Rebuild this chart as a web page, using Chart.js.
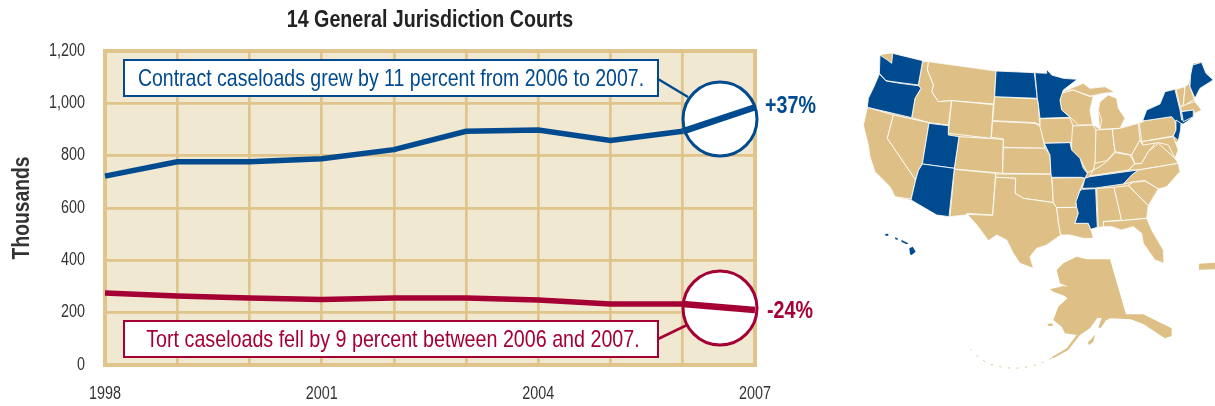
<!DOCTYPE html>
<html>
<head>
<meta charset="utf-8">
<title>14 General Jurisdiction Courts</title>
<script src="https://cdn.jsdelivr.net/npm/chart.js@4"></script>
<style>
  html, body { margin: 0; padding: 0; background: #fff; }
  #wrap { position: relative; width: 1215px; height: 406px; overflow: hidden; }
  #chart { position: absolute; left: 0; top: 0; }
  #map { position: absolute; left: 0; top: 0; }
  #map .states polygon { fill: #dec086; stroke: #fff; stroke-width: 2.6; stroke-linejoin: round; }
  #map .states polygon.base { stroke: none; }
  #map .states polygon.hl { fill: #004b8f; }
</style>
</head>
<body>
<div id="wrap">
  <canvas id="chart" width="1215" height="406"></canvas>
  <svg id="map" width="1215" height="406" viewBox="0 0 1215 406">
    <!-- lower 48, coordinates traced at 3x from the map origin -->
    <g class="states" transform="translate(850,30) scale(0.3333)">
      <polygon class="base" points="90,75 128,70 218,92 438,123 553,128 590,130 590,118 605,135 640,145 682,148 640,180 632,195 650,180 700,160 720,175 765,170 795,187 760,190 730,197 720,240 728,285 750,298 745,240 750,215 775,195 800,205 805,235 825,265 810,295 865,280 885,272 890,240 930,222 945,185 975,178 1005,170 1017,160 1030,100 1055,97 1065,130 1090,150 1045,180 1032,210 1035,215 1055,240 1035,250 1000,280 993,285 985,332 975,340 985,360 975,385 990,425 950,470 925,477 895,527 890,565 905,600 940,660 942,700 915,690 880,640 875,610 850,590 815,600 785,590 760,590 745,592 722,598 730,625 700,625 660,615 632,615 590,645 560,655 540,680 550,715 510,700 490,670 470,630 440,615 415,632 385,590 352,553 300,560 260,555 183,510 135,500 120,470 75,425 60,380 55,345 40,285 45,265 52,232 55,205 72,170 88,130"/>
      <polygon points="235,95 438,123 432,222 305,212 265,215 245,185 250,165 232,120"/>
      <polygon points="218,95 235,95 232,120 250,165 245,185 265,215 305,212 295,285 237,278 185,263 195,205 213,175 205,165"/>
      <polygon points="52,232 130,255 112,325 197,450 190,480 183,507 135,500 120,470 75,425 60,380 55,345 40,285 45,265"/>
      <polygon points="130,255 237,278 217,402 205,422 197,450 112,325"/>
      <polygon points="305,212 430,224 423,325 295,310"/>
      <polygon points="327,320 460,328 458,430 313,417"/>
      <polygon points="313,418 437,430 428,555 350,550 348,555 300,560"/>
      <polygon points="434,200 562,207 565,222 568,265 570,285 555,278 428,272"/>
      <polygon points="428,274 555,280 572,290 585,355 460,352 460,327 424,322"/>
      <polygon points="460,353 585,355 600,375 603,432 458,430"/>
      <polygon points="437,432 605,433 610,518 570,512 520,505 495,490 497,445 437,442"/>
      <polygon points="437,442 497,445 495,490 520,505 570,512 610,518 620,533 625,575 632,615 590,645 560,655 540,680 550,715 510,700 490,670 470,630 440,615 415,632 385,590 352,553 428,556"/>
      <polygon points="570,266 660,264 668,285 685,295 668,320 665,338 583,340 570,290"/>
      <polygon points="606,444 695,443 705,447 690,480 678,520 680,532 620,533 610,518"/>
      <polygon points="620,533 682,532 685,550 675,580 715,580 725,605 730,625 700,625 660,615 632,615 625,575"/>
      <polygon points="740,476 792,472 815,570 760,575 765,590 745,592"/>
      <polygon points="720,438 730,420 750,410 770,395 795,368 840,375 855,402 835,420"/>
      <polygon points="635,190 670,180 720,200 730,197 720,240 728,285 685,285 665,265 635,240 630,210"/>
      <polygon points="668,288 728,285 738,300 738,385 730,420 712,428 690,385 665,360 665,335"/>
      <polygon points="738,300 787,297 795,365 770,392 735,400"/>
      <polygon points="787,297 810,295 865,280 870,330 845,375 795,365"/>
      <polygon points="750,215 775,195 800,205 805,235 825,265 810,295 750,298 755,270 745,240"/>
      <polygon points="650,180 700,160 720,175 765,170 795,187 760,190 730,197 720,198 670,180"/>
      <polygon points="868,280 885,272 965,260 975,270 978,300 970,318 875,335"/>
      <polygon points="992,228 1035,215 1055,240 1035,250 1030,240 994,245"/>
      <polygon points="978,178 1005,170 1000,228 990,228"/>
      <polygon points="1005,170 1017,160 1033,208 1000,228"/>
      <polygon points="845,375 870,330 878,345 920,335 895,365 875,400 855,402"/>
      <polygon points="835,420 855,402 875,400 895,365 925,340 975,385 985,400 865,420"/>
      <polygon points="875,335 970,320 985,360 975,385 955,345 925,338 880,345"/>
      <polygon points="865,420 985,400 990,425 950,470 925,477 885,452 850,455 818,463 845,435"/>
      <polygon points="850,457 885,453 925,477 895,527 835,465"/>
      <polygon points="792,472 835,467 895,527 890,565 815,572"/>
      <polygon points="760,575 815,572 890,565 905,600 940,660 942,700 915,690 880,640 875,610 850,590 815,600 785,590 760,590"/>
      <!-- the 14 court states -->
      <polygon class="hl" points="128,70 218,92 205,165 150,158 108,152 88,130 90,75 112,90 125,100"/>
      <polygon class="hl" points="88,132 108,153 150,160 205,167 213,175 195,205 185,263 52,232 55,205 72,170"/>
      <polygon class="hl" points="237,280 295,287 295,315 327,320 313,415 217,402"/>
      <polygon class="hl" points="217,402 313,415 297,560 260,555 183,510 190,480 197,450 205,422"/>
      <polygon class="hl" points="438,123 553,128 562,205 434,200"/>
      <polygon class="hl" points="555,128 590,130 590,118 605,135 640,145 682,148 640,180 630,210 635,240 660,262 570,265 565,222 562,205"/>
      <polygon class="hl" points="583,340 660,338 665,360 690,385 700,415 712,430 705,445 695,442 605,442 603,432 600,375"/>
      <polygon class="hl" points="680,532 678,515 690,482 697,478 737,476 742,592 722,598 715,580 675,580 685,550"/>
      <polygon class="hl" points="697,475 705,445 720,440 865,420 845,435 820,462 737,474"/>
      <polygon class="hl" points="878,272 890,240 930,222 945,185 975,178 990,240 995,270 1030,262 1000,282 980,278 965,260 885,272"/>
      <polygon class="hl" points="978,270 993,280 992,300 985,332 970,318 978,300"/>
      <polygon class="hl" points="995,245 1030,240 1030,260 1000,275"/>
      <polygon class="hl" points="1028,105 1055,97 1068,130 1090,150 1050,175 1035,205 1020,170 1022,135"/>
    </g>
    <!-- Alaska, Hawaii, Puerto Rico -->
    <g transform="translate(860,220) scale(0.3333)">
      <polygon fill="#dec086" points="650,110 680,118 750,118 798,283 850,283 935,325 935,348 915,355 850,312 812,298 750,295 737,302 722,325 715,322 725,294 712,294 690,325 660,345 625,390 580,415 575,412 620,385 650,345 615,340 605,320 580,300 595,260 622,235 615,228 580,215 570,208 610,198 625,200 600,190 590,150 610,130"/>
      <polygon fill="#dec086" points="683,368 705,345 700,365 688,375"/>
      <polygon fill="#dec086" points="562,312 578,310 578,318 565,318"/>
      <path d="M575,415 Q480,465 385,430 Q355,415 332,388" fill="none" stroke="#dec086" stroke-width="3" stroke-dasharray="6 20"/>
      <polygon fill="#dec086" points="1017,131 1065,128 1065,148 1017,149"/>
      <polygon fill="#004b8f" points="148,85 158,80 167,95 155,105 150,103"/>
      <polygon fill="#004b8f" points="75,42 85,41 85,47 77,47"/>
      <polygon fill="#004b8f" points="105,52 113,55 113,60 106,58"/>
      <polygon fill="#004b8f" points="125,60 145,70 140,73 124,65"/>
    </g>
  </svg>
</div>
<script>
const years = ['1998', '1999', '2000', '2001', '2002', '2003', '2004', '2005', '2006', '2007'];
const contractCases = [722, 777, 777, 788, 823, 893, 898, 858, 893, 985];
const tortCases = [275, 264, 256, 250, 256, 256, 248, 233, 233, 210];
const xTickLabels = ['1998', '2001', '2004', '2007'];
const yTickLabels = ['0', '200', '400', '600', '800', '1,000', '1,200'];

const colors = {
    blue: '#004b8f',
    red: '#a50034',
    panel: '#f1e8d2',
    grid: '#dfc48b',
    text: '#333333'
};
const sans = '"Liberation Sans", Arial, sans-serif';
const lensRadius = 37;

const notes = [
    { text: 'Contract caseloads grew by 11 percent from 2006 to 2007.', size: 23.8, color: colors.blue, box: [124, 60, 534, 36], leader: [658, 79, 688, 97], circle: [720, 119], pct: '+37%', pctPos: [765, 106] },
    { text: 'Tort caseloads fell by 9 percent between 2006 and 2007.', size: 24, color: colors.red, box: [124, 321, 534, 36], textShift: 2, leader: [658, 339, 687, 325], circle: [720, 308], pct: '-24%', pctPos: [767, 311] }
];

// No narrow font is installed, so squeeze every label sideways
const narrowTextPlugin = {
    id: 'narrowText',
    beforeInit(chart) {
        const ctx = chart.ctx;
        const fill = ctx.fillText;
        ctx.fillText = function (text, x, y) {
            ctx.save();
            ctx.translate(x, y);
            ctx.scale(0.82, 1);
            fill.call(ctx, text, 0, 0);
            ctx.restore();
        };
    }
};

// Panel fill behind the grid, frame and white lens under each line
const panelPlugin = {
    id: 'panel',
    beforeDraw(chart) {
        const { ctx, chartArea: a } = chart;
        ctx.save();
        ctx.fillStyle = colors.panel;
        ctx.fillRect(a.left, a.top, a.width, a.height);
        ctx.restore();
    },
    beforeDatasetsDraw(chart) {
        const { ctx, chartArea: a } = chart;
        ctx.save();
        ctx.strokeStyle = colors.grid;
        ctx.lineWidth = 4;
        ctx.strokeRect(a.left, a.top, a.width, a.height);
        notes.forEach(n => {
            ctx.strokeStyle = n.color;
            ctx.lineWidth = 2.5;
            ctx.beginPath();
            ctx.moveTo(n.leader[0], n.leader[1]);
            ctx.lineTo(n.leader[2], n.leader[3]);
            ctx.stroke();
            ctx.fillStyle = '#fff';
            ctx.beginPath();
            ctx.arc(n.circle[0], n.circle[1], lensRadius, 0, Math.PI * 2);
            ctx.fill();
        });
        ctx.restore();
    }
};

// Callout boxes, lens outlines and percent labels
const calloutPlugin = {
    id: 'callouts',
    afterDatasetsDraw(chart) {
        const { ctx } = chart;
        ctx.save();
        notes.forEach(n => {
            ctx.strokeStyle = n.color;
            ctx.lineWidth = 3;
            ctx.beginPath();
            ctx.arc(n.circle[0], n.circle[1], lensRadius, 0, Math.PI * 2);
            ctx.stroke();

            const [x, y, w, h] = n.box;
            ctx.fillStyle = '#fff';
            ctx.fillRect(x, y, w, h);
            ctx.lineWidth = 2;
            ctx.strokeRect(x, y, w, h);

            ctx.fillStyle = n.color;
            ctx.textAlign = 'center';
            ctx.textBaseline = 'middle';
            ctx.font = n.size + 'px ' + sans;
            ctx.fillText(n.text, x + w / 2 + (n.textShift || 0), y + h / 2 + 1);

            ctx.textAlign = 'left';
            ctx.font = 'bold 24px ' + sans;
            ctx.fillText(n.pct, n.pctPos[0], n.pctPos[1]);
        });
        ctx.restore();
    }
};

new Chart(document.getElementById('chart'), {
    type: 'line',
    data: {
        labels: years,
        datasets: [
            {
                label: 'Contract',
                data: contractCases,
                borderColor: colors.blue,
                borderWidth: 5.5,
                pointRadius: 0,
                borderCapStyle: 'butt',
                tension: 0,
                segment: { borderWidth: c => c.p1DataIndex === years.length - 1 ? 6.5 : 5.5 }
            },
            {
                label: 'Tort',
                data: tortCases,
                borderColor: colors.red,
                borderWidth: 5.5,
                pointRadius: 0,
                borderCapStyle: 'butt',
                tension: 0,
                segment: { borderWidth: c => c.p1DataIndex === years.length - 1 ? 6.5 : 5.5 }
            }
        ]
    },
    options: {
        responsive: false,
        animation: false,
        layout: { padding: { right: 460 } },
        plugins: {
            legend: { display: false },
            tooltip: { enabled: false },
            title: {
                display: true,
                text: '14 General Jurisdiction Courts',
                fullSize: false,
                color: '#222222',
                font: { family: sans, size: 24, weight: 'bold' },
                padding: { top: 6, bottom: 16.2 }
            }
        },
        scales: {
            x: {
                offset: false,
                afterFit(scale) { scale.height = 41; },
                border: { display: false },
                grid: { color: colors.grid, lineWidth: 2.7, drawTicks: false },
                ticks: {
                    autoSkip: false,
                    maxRotation: 0,
                    padding: 19,
                    color: colors.text,
                    font: { family: sans, size: 17.5 },
                    callback(value) {
                        const label = this.getLabelForValue(value);
                        return xTickLabels.includes(label) ? label : '';
                    }
                }
            },
            y: {
                min: 0,
                max: 1200,
                afterFit(scale) { scale.width = 105; },
                border: { display: false },
                grid: { color: colors.grid, lineWidth: 2.7, drawTicks: false },
                title: {
                    display: true,
                    text: 'Thousands',
                    color: colors.text,
                    font: { family: sans, size: 23.5, weight: 'bold' },
                    padding: { top: 8, bottom: 0 }
                },
                ticks: {
                    stepSize: 200,
                    padding: 20,
                    color: colors.text,
                    font: { family: sans, size: 17.5 },
                    callback: (value, i) => yTickLabels[i]
                }
            }
        }
    },
    plugins: [narrowTextPlugin, panelPlugin, calloutPlugin]
});
</script>
</body>
</html>
